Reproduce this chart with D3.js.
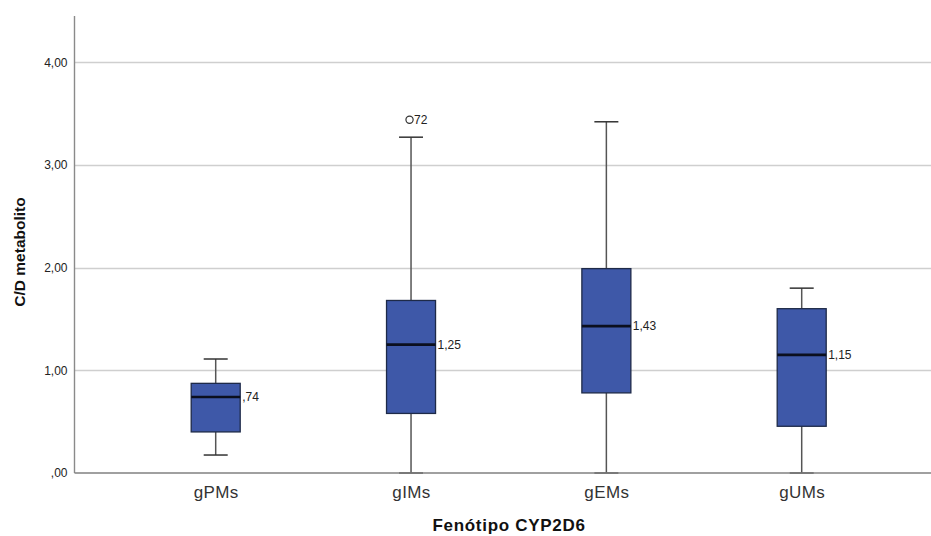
<!DOCTYPE html>
<html>
<head>
<meta charset="utf-8">
<script src="https://cdn.jsdelivr.net/npm/d3@7"></script>
<style>
  html, body { margin: 0; padding: 0; background: #fff; }
  svg { display: block; font-family: "Liberation Sans", Arial, sans-serif; }
</style>
</head>
<body>
<svg id="chart" width="931" height="536"></svg>
<script>
// Box-plot summaries per CYP2D6 phenotype
const categories = ["gPMs", "gIMs", "gEMs", "gUMs"];
const whiskerLow = [0.175, 0, 0, 0];
const q1 = [0.40, 0.58, 0.78, 0.455];
const median = [0.74, 1.25, 1.43, 1.15];
const q3 = [0.873, 1.68, 1.99, 1.60];
const whiskerHigh = [1.11, 3.27, 3.42, 1.80];
const medianLabels = [",74", "1,25", "1,43", "1,15"];
// Outliers: category, value, case label
const outliers = [{ cat: "gIMs", value: 3.44, label: "72" }];
const yTicks = [0, 1, 2, 3, 4];
const yTickLabels = [",00", "1,00", "2,00", "3,00", "4,00"];

const svg = d3.select("#chart");
const W = 931;
const plotLeft = 74.5, plotTop = 16, plotBottom = 473;

const y = d3.scaleLinear().domain([0, 4.45]).range([plotBottom, plotTop]);
const x = d3.scalePoint().domain(categories).range([215.7, 801.7]);
const boxW = 49, capW = 24;

// Gridlines
svg.append("g").selectAll("line").data(yTicks.filter(d => d > 0)).join("line")
  .attr("x1", plotLeft).attr("x2", W)
  .attr("y1", d => Math.round(y(d)) + 0.5).attr("y2", d => Math.round(y(d)) + 0.5)
  .attr("stroke", "#cfcfcf").attr("stroke-width", 1.3);

// Y axis
const yAxis = d3.axisLeft(y).tickValues(yTicks)
  .tickFormat((d, i) => yTickLabels[i]).tickSize(0).tickPadding(7);
const gy = svg.append("g").attr("transform", `translate(${plotLeft},0)`).call(yAxis);
gy.select(".domain").remove();
gy.selectAll("text").attr("font-size", 12).attr("fill", "#222")
  .attr("font-family", "Liberation Sans, Arial, sans-serif");
svg.append("line").attr("x1", plotLeft).attr("x2", plotLeft).attr("y1", plotTop).attr("y2", plotBottom)
  .attr("stroke", "#8a8a8a").attr("stroke-width", 1.4);

// X axis
const xAxis = d3.axisBottom(x).tickSize(0).tickPadding(13);
const gx = svg.append("g").attr("transform", `translate(0,${plotBottom})`).call(xAxis);
gx.select(".domain").remove();
gx.selectAll("text").attr("font-size", 17).attr("letter-spacing", "0.4px").attr("fill", "#333")
  .attr("font-family", "Liberation Sans, Arial, sans-serif");

const data = categories.map((c, i) => ({
  c, lo: whiskerLow[i], q1: q1[i], med: median[i], q3: q3[i], hi: whiskerHigh[i], lab: medianLabels[i]
}));

const g = svg.append("g").selectAll("g").data(data).join("g");
const wColor = "#555";

// Whisker stems
g.append("line").attr("x1", d => x(d.c)).attr("x2", d => x(d.c))
  .attr("y1", d => y(d.hi)).attr("y2", d => y(d.q3))
  .attr("stroke", wColor).attr("stroke-width", 1.5);
g.append("line").attr("x1", d => x(d.c)).attr("x2", d => x(d.c))
  .attr("y1", d => y(d.q1)).attr("y2", d => y(d.lo))
  .attr("stroke", wColor).attr("stroke-width", 1.5);
// Caps
g.append("line").attr("x1", d => x(d.c) - capW / 2).attr("x2", d => x(d.c) + capW / 2)
  .attr("y1", d => y(d.hi)).attr("y2", d => y(d.hi))
  .attr("stroke", "#333").attr("stroke-width", 1.5);
g.append("line").attr("x1", d => x(d.c) - capW / 2).attr("x2", d => x(d.c) + capW / 2)
  .attr("y1", d => y(d.lo)).attr("y2", d => y(d.lo))
  .attr("stroke", "#333").attr("stroke-width", 1.5);

// Boxes
g.append("rect").attr("x", d => x(d.c) - boxW / 2).attr("width", boxW)
  .attr("y", d => y(d.q3)).attr("height", d => y(d.q1) - y(d.q3))
  .attr("fill", "#3e58a8").attr("stroke", "#1e2a48").attr("stroke-width", 1.3);

// Median lines
g.append("line").attr("x1", d => x(d.c) - boxW / 2).attr("x2", d => x(d.c) + boxW / 2)
  .attr("y1", d => y(d.med)).attr("y2", d => y(d.med))
  .attr("stroke", "#0b0f1e").attr("stroke-width", 2.6);

// Median value labels
g.append("text").attr("x", d => x(d.c) + boxW / 2 + 2).attr("y", d => y(d.med))
  .attr("dy", "0.35em").attr("font-size", 12).attr("fill", "#222")
  .text(d => d.lab);

// Bottom axis line
svg.append("line").attr("x1", plotLeft).attr("x2", W).attr("y1", plotBottom).attr("y2", plotBottom)
  .attr("stroke", "#808080").attr("stroke-width", 1.5);

// Outliers
const og = svg.append("g").selectAll("g").data(outliers).join("g");
og.append("circle").attr("cx", d => x(d.cat) - 1.5).attr("cy", d => y(d.value))
  .attr("r", 3.6).attr("fill", "none").attr("stroke", "#333").attr("stroke-width", 1.2);
og.append("text").attr("x", d => x(d.cat) + 3).attr("y", d => y(d.value))
  .attr("dy", "0.36em").attr("font-size", 12).attr("fill", "#222").text(d => d.label);

// Axis titles
svg.append("text").attr("transform", "translate(25,252) rotate(-90)")
  .attr("text-anchor", "middle").attr("font-size", 15.5).attr("font-weight", "bold")
  .attr("fill", "#111").text("C/D metabolito");
svg.append("text").attr("x", 509).attr("y", 531)
  .attr("text-anchor", "middle").attr("font-size", 17).attr("letter-spacing", "0.7px")
  .attr("font-weight", "bold").attr("fill", "#111").text("Fenótipo CYP2D6");
</script>
</body>
</html>
